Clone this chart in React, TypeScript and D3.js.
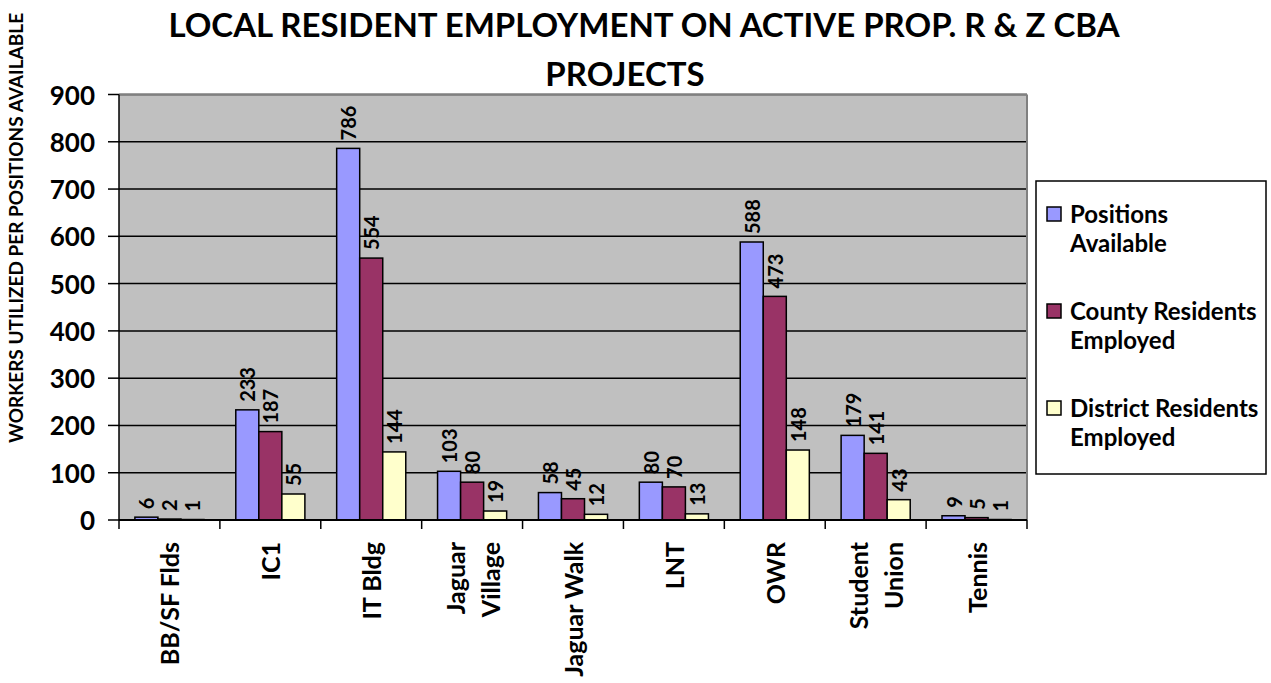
import React from "react";
import * as d3 from "d3";

const categories: string[][] = [
  ["BB/SF Flds"],
  ["IC1"],
  ["IT Bldg"],
  ["Jaguar", "Village"],
  ["Jaguar Walk"],
  ["LNT"],
  ["OWR"],
  ["Student", "Union"],
  ["Tennis"],
];
const seriesNames = ["Positions Available", "County Residents Employed", "District Residents Employed"];
const legendLines: string[][] = [
  ["Positions", "Available"],
  ["County Residents", "Employed"],
  ["District Residents", "Employed"],
];
const positionsAvailable = [6, 233, 786, 103, 58, 80, 588, 179, 9];
const countyResidents = [2, 187, 554, 80, 45, 70, 473, 141, 5];
const districtResidents = [1, 55, 144, 19, 12, 13, 148, 43, 1];
const yTicks = [0, 100, 200, 300, 400, 500, 600, 700, 800, 900];
const colors = ["#9999FF", "#993366", "#FFFFCC"];

const FONT = "Lato, 'Open Sans', sans-serif";

export default function App() {
  const W = 1271, H = 683;
  const left = 119, right = 1027, top = 94.5, bottom = 520;
  const values = [positionsAvailable, countyResidents, districtResidents];
  const catKeys = categories.map((c) => c.join(" "));
  const x0 = d3.scaleBand<string>().domain(catKeys).range([left, right]).padding(0);
  const x1 = d3
    .scaleBand<string>()
    .domain(seriesNames)
    .range([0, x0.bandwidth()])
    .paddingInner(0)
    .paddingOuter(0.69);
  const y = d3.scaleLinear().domain([0, 900]).range([bottom, top]);

  return (
    <svg width={W} height={H} style={{ position: "absolute", left: 0, top: 0, background: "#fff" }} fontFamily={FONT}>
      {/* title */}
      <text x={644} y={37} textAnchor="middle" fontSize={33} fontWeight="bold">
        LOCAL RESIDENT EMPLOYMENT ON ACTIVE PROP. R &amp; Z CBA
      </text>
      <text x={625} y={86} textAnchor="middle" fontSize={33} fontWeight="bold">
        PROJECTS
      </text>
      {/* y axis title */}
      <text
        transform={`translate(18,228) rotate(-90)`}
        textAnchor="middle"
        dominantBaseline="middle"
        fontSize={19}
        fontWeight="bold"
      >
        WORKERS UTILIZED PER POSITIONS AVAILABLE
      </text>
      {/* plot area */}
      <rect x={left} y={top} width={right - left} height={bottom - top} fill="#C0C0C0" />
      {yTicks.map((t) => (
        <line key={t} x1={left} x2={right} y1={y(t)} y2={y(t)} stroke="#000" strokeWidth={1.5} />
      ))}
      <line x1={left} x2={right} y1={top} y2={top} stroke="#808080" strokeWidth={2} />
      <line x1={right} x2={right} y1={top} y2={bottom} stroke="#808080" strokeWidth={2} />
      {/* bars */}
      {catKeys.map((c, i) => (
        <g key={c} transform={`translate(${x0(c)},0)`}>
          {seriesNames.map((s, j) => {
            const v = values[j][i];
            const bx = x1(s)!;
            const bw = x1.bandwidth();
            return (
              <g key={s}>
                <rect
                  x={bx}
                  y={y(v)}
                  width={bw}
                  height={bottom - y(v)}
                  fill={colors[j]}
                  stroke="#000"
                  strokeWidth={1.5}
                />
                <text
                  transform={`translate(${bx + bw / 2},${y(v) - 8}) rotate(-90)`}
                  dominantBaseline="central"
                  fontSize={20}
                  fontWeight="bold"
                >
                  {v}
                </text>
              </g>
            );
          })}
        </g>
      ))}
      {/* axes */}
      <line x1={left} x2={left} y1={top} y2={bottom} stroke="#000" strokeWidth={1.5} />
      <line x1={left} x2={right} y1={bottom} y2={bottom} stroke="#000" strokeWidth={2} />
      {yTicks.map((t) => (
        <g key={t}>
          <line x1={108} x2={left} y1={y(t)} y2={y(t)} stroke="#000" strokeWidth={1.5} />
          <text x={95} y={y(t)} textAnchor="end" dominantBaseline="central" fontSize={26} fontWeight="bold">
            {t}
          </text>
        </g>
      ))}
      {[...catKeys.map((c) => x0(c)!), right].map((xv, i) => (
        <line key={i} x1={xv} x2={xv} y1={bottom} y2={bottom + 9} stroke="#000" strokeWidth={1.5} />
      ))}
      {categories.map((lines, i) => {
        const cx = x0(catKeys[i])! + x0.bandwidth() / 2;
        const gap = 35;
        return lines.map((ln, k) => {
          const off = (k - (lines.length - 1) / 2) * gap;
          return (
            <text
              key={i + "-" + k}
              transform={`translate(${cx + off},542) rotate(-90)`}
              textAnchor="end"
              dominantBaseline="central"
              fontSize={25}
              fontWeight="bold"
            >
              {ln}
            </text>
          );
        });
      })}
      {/* legend */}
      <rect x={1036} y={181} width={230} height={293} fill="#fff" stroke="#000" strokeWidth={1.5} />
      {legendLines.map((lines, j) => {
        const baseY = 223 + j * 97;
        return (
          <g key={j}>
            <rect x={1047} y={baseY - 16} width={14} height={14} fill={colors[j]} stroke="#000" strokeWidth={1.5} />
            {lines.map((ln, k) => (
              <text key={k} x={1070} y={baseY + k * 29} fontSize={24} fontWeight="bold">
                {ln}
              </text>
            ))}
          </g>
        );
      })}
    </svg>
  );
}
